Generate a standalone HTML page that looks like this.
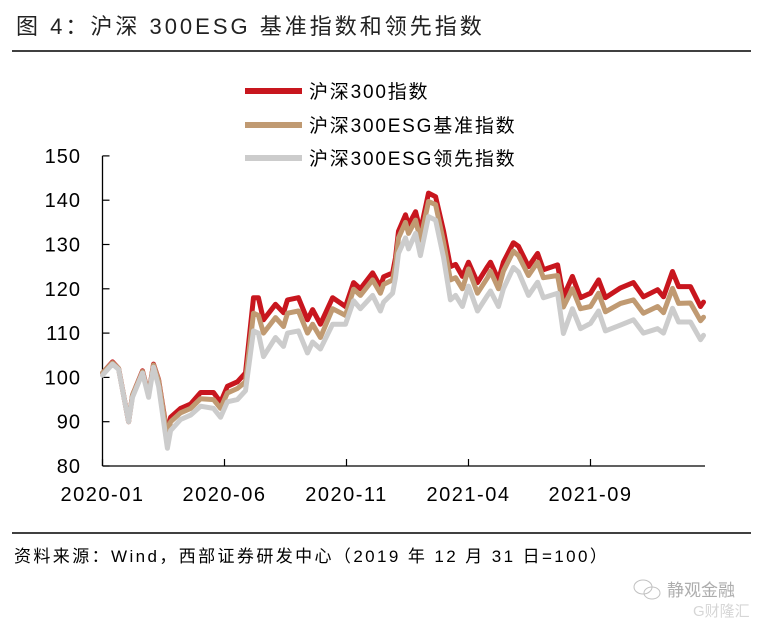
<!DOCTYPE html>
<html><head><meta charset="utf-8"><style>
body{margin:0;background:#fff;width:767px;height:624px;overflow:hidden;font-family:"Liberation Sans","Noto Sans CJK SC",sans-serif}
svg{display:block}
</style></head><body>
<svg width="767" height="624" viewBox="0 0 767 624">
<text x="16" y="34" font-size="22" letter-spacing="3" fill="#222">图 4：沪深 300ESG 基准指数和领先指数</text>
<line x1="12" y1="51" x2="751" y2="51" stroke="#000" stroke-width="1.5"/>
<g id="legend">
<line x1="245" y1="91" x2="302" y2="91" stroke="#c8161e" stroke-width="6"/>
<text x="309" y="98" font-size="19" letter-spacing="1.8" fill="#000">沪深300指数</text>
<line x1="245" y1="125" x2="302" y2="125" stroke="#c09a72" stroke-width="6"/>
<text x="309" y="132" font-size="19" letter-spacing="1.8" fill="#000">沪深300ESG基准指数</text>
<line x1="245" y1="158" x2="302" y2="158" stroke="#cccccc" stroke-width="6"/>
<text x="309" y="165" font-size="19" letter-spacing="1.8" fill="#000">沪深300ESG领先指数</text>
</g>
<g id="axes"></g>
<g id="series"></g>
<line x1="12" y1="533" x2="751" y2="533" stroke="#000" stroke-width="1.5"/>
<text x="14" y="562" font-size="17" letter-spacing="2.4" fill="#000">资料来源：Wind，西部证券研发中心（2019 年 12 月 31 日=100）</text>
<g opacity="0.6">
<ellipse cx="643" cy="587" rx="9" ry="7" fill="none" stroke="#999" stroke-width="1"/>
<ellipse cx="652" cy="593" rx="8" ry="6" fill="none" stroke="#999" stroke-width="1"/>
<text x="667" y="596" font-size="17" fill="#777">静观金融</text>
<text x="693" y="616" font-size="15" fill="#bbb">G财隆汇</text>
</g>
</svg>
<script>
const months = [0,0.41,0.66,1.07,1.23,1.64,1.89,2.09,2.30,2.66,2.79,3.20,3.61,4.02,4.55,4.84,5.12,5.53,5.86,6.19,6.39,6.60,7.09,7.42,7.58,8.03,8.40,8.61,8.93,9.43,9.96,10.29,10.57,11.07,11.39,11.52,11.89,12.01,12.13,12.42,12.54,12.83,13.03,13.36,13.65,13.98,14.26,14.47,14.75,15.0,15.37,15.78,15.90,16.23,16.43,16.84,17.05,17.46,17.83,18.07,18.65,18.89,19.26,19.59,20.0,20.33,20.61,21.23,21.76,22.17,22.75,22.99,23.36,23.61,24.10,24.51,24.63];
const hs300 = [101,103.5,102,90,96,101.5,96,103,99.5,87,91,93,94,96.6,96.6,94.4,98,99,101,118,118,113,116.5,114.6,117.5,118,113,115.3,112,118,116,121.4,120,123.6,120.5,122.7,123.6,127,133,136.7,134.4,137.4,133,141.6,140.8,133,125,125.5,122.8,126,121.4,125,126,122,126,130.4,129.6,125,128,124.3,125.4,118.2,122.8,118,119,122,118,120.2,121.4,118.2,119.8,118.2,123.9,120.5,120.5,116,117];
const esgBenchmark = [101,103.3,102,90,96,101.3,96,102.8,99.3,86.5,90,92,93,95.2,95,93,96.5,97.5,99,114.5,114,110,113.5,111.5,114.5,115,110,112,109,115.5,114,119.9,118.5,122,119,121,122,125.5,131.5,135,132.5,135.5,131,139.7,139,130.5,122,122.5,120,124.5,119,122.5,124,120,124,128.5,127.5,123,126,122.5,123,115.9,120,115.5,116,119,114.8,116.7,117.5,114.5,116,114.6,120.1,116.7,116.8,112.8,113.6];
const esgLeading = [100.5,103,101.8,90,95.5,101,95.5,102.3,98,84,88,90.5,91.5,93.5,93,91,94.5,95,97,110.5,110,104.7,109,107,110,110.5,105.5,108,106.4,112,112,117.3,115.5,118.5,115,117,119,122.5,128,131.5,129,132.5,127.5,136.3,135.5,127,117.5,118.5,116,120.6,115,118.5,119.5,116,120,124.8,123.8,118.5,121.5,118,119,109.9,115.5,111,112.2,115,110.5,111.8,113,110,111,110,115.6,112.5,112.5,108.5,109.5];
const yTicks = [80,90,100,110,120,130,140,150];
const xTickMonths = [0,5,10,15,20];
const xTickLabels = ["2020-01","2020-06","2020-11","2021-04","2021-09"];

const NS="http://www.w3.org/2000/svg";
const X0=102.5, PXM=24.4, Y80=466, PXU=4.43, XEND=705;
const xs=m=>X0+m*PXM;
const ys=v=>Y80-(v-80)*PXU;
function mk(tag,attrs,parent){const e=document.createElementNS(NS,tag);for(const k in attrs)e.setAttribute(k,attrs[k]);parent.appendChild(e);return e;}
const axes=document.getElementById('axes');
const ya=mk('line',{x1:X0,y1:ys(150),x2:X0,y2:Y80,stroke:'#000','stroke-width':1.3},axes);


const xa=mk('line',{x1:X0,y1:Y80,x2:XEND,y2:Y80,stroke:'#000','stroke-width':1.3},axes);


yTicks.forEach(v=>{
  const t=mk('line',{x1:X0,y1:ys(v),x2:X0+7,y2:ys(v),stroke:'#000','stroke-width':1.2},axes);
  
  
  const l=mk('text',{x:81,y:ys(v)+7,'font-size':20,'letter-spacing':1,'text-anchor':'end',fill:'#000'},axes);
  l.textContent=v;
  
  
});
xTickMonths.forEach((m,i)=>{
  const t=mk('line',{x1:xs(m),y1:Y80,x2:xs(m),y2:Y80-7,stroke:'#000','stroke-width':1.2},axes);
  
  
  const l=mk('text',{x:xs(m),y:501,'font-size':20,'letter-spacing':1.5,'text-anchor':'middle',fill:'#000'},axes);
  l.textContent=xTickLabels[i];
  
  
});
const ser=document.getElementById('series');
function line(vals,color,name){
  const d=vals.map((v,i)=>(i?'L':'M')+xs(months[i]).toFixed(1)+' '+ys(v).toFixed(1)).join(' ');
  const p=mk('path',{d:d,fill:'none',stroke:color,'stroke-width':5,'stroke-linejoin':'round','stroke-linecap':'round'},ser);
  
  
}
line(hs300,'#c8161e','line-hs300');
line(esgBenchmark,'#c09a72','line-esg-benchmark');
line(esgLeading,'#cccccc','line-esg-leading');
</script>
</body></html>
